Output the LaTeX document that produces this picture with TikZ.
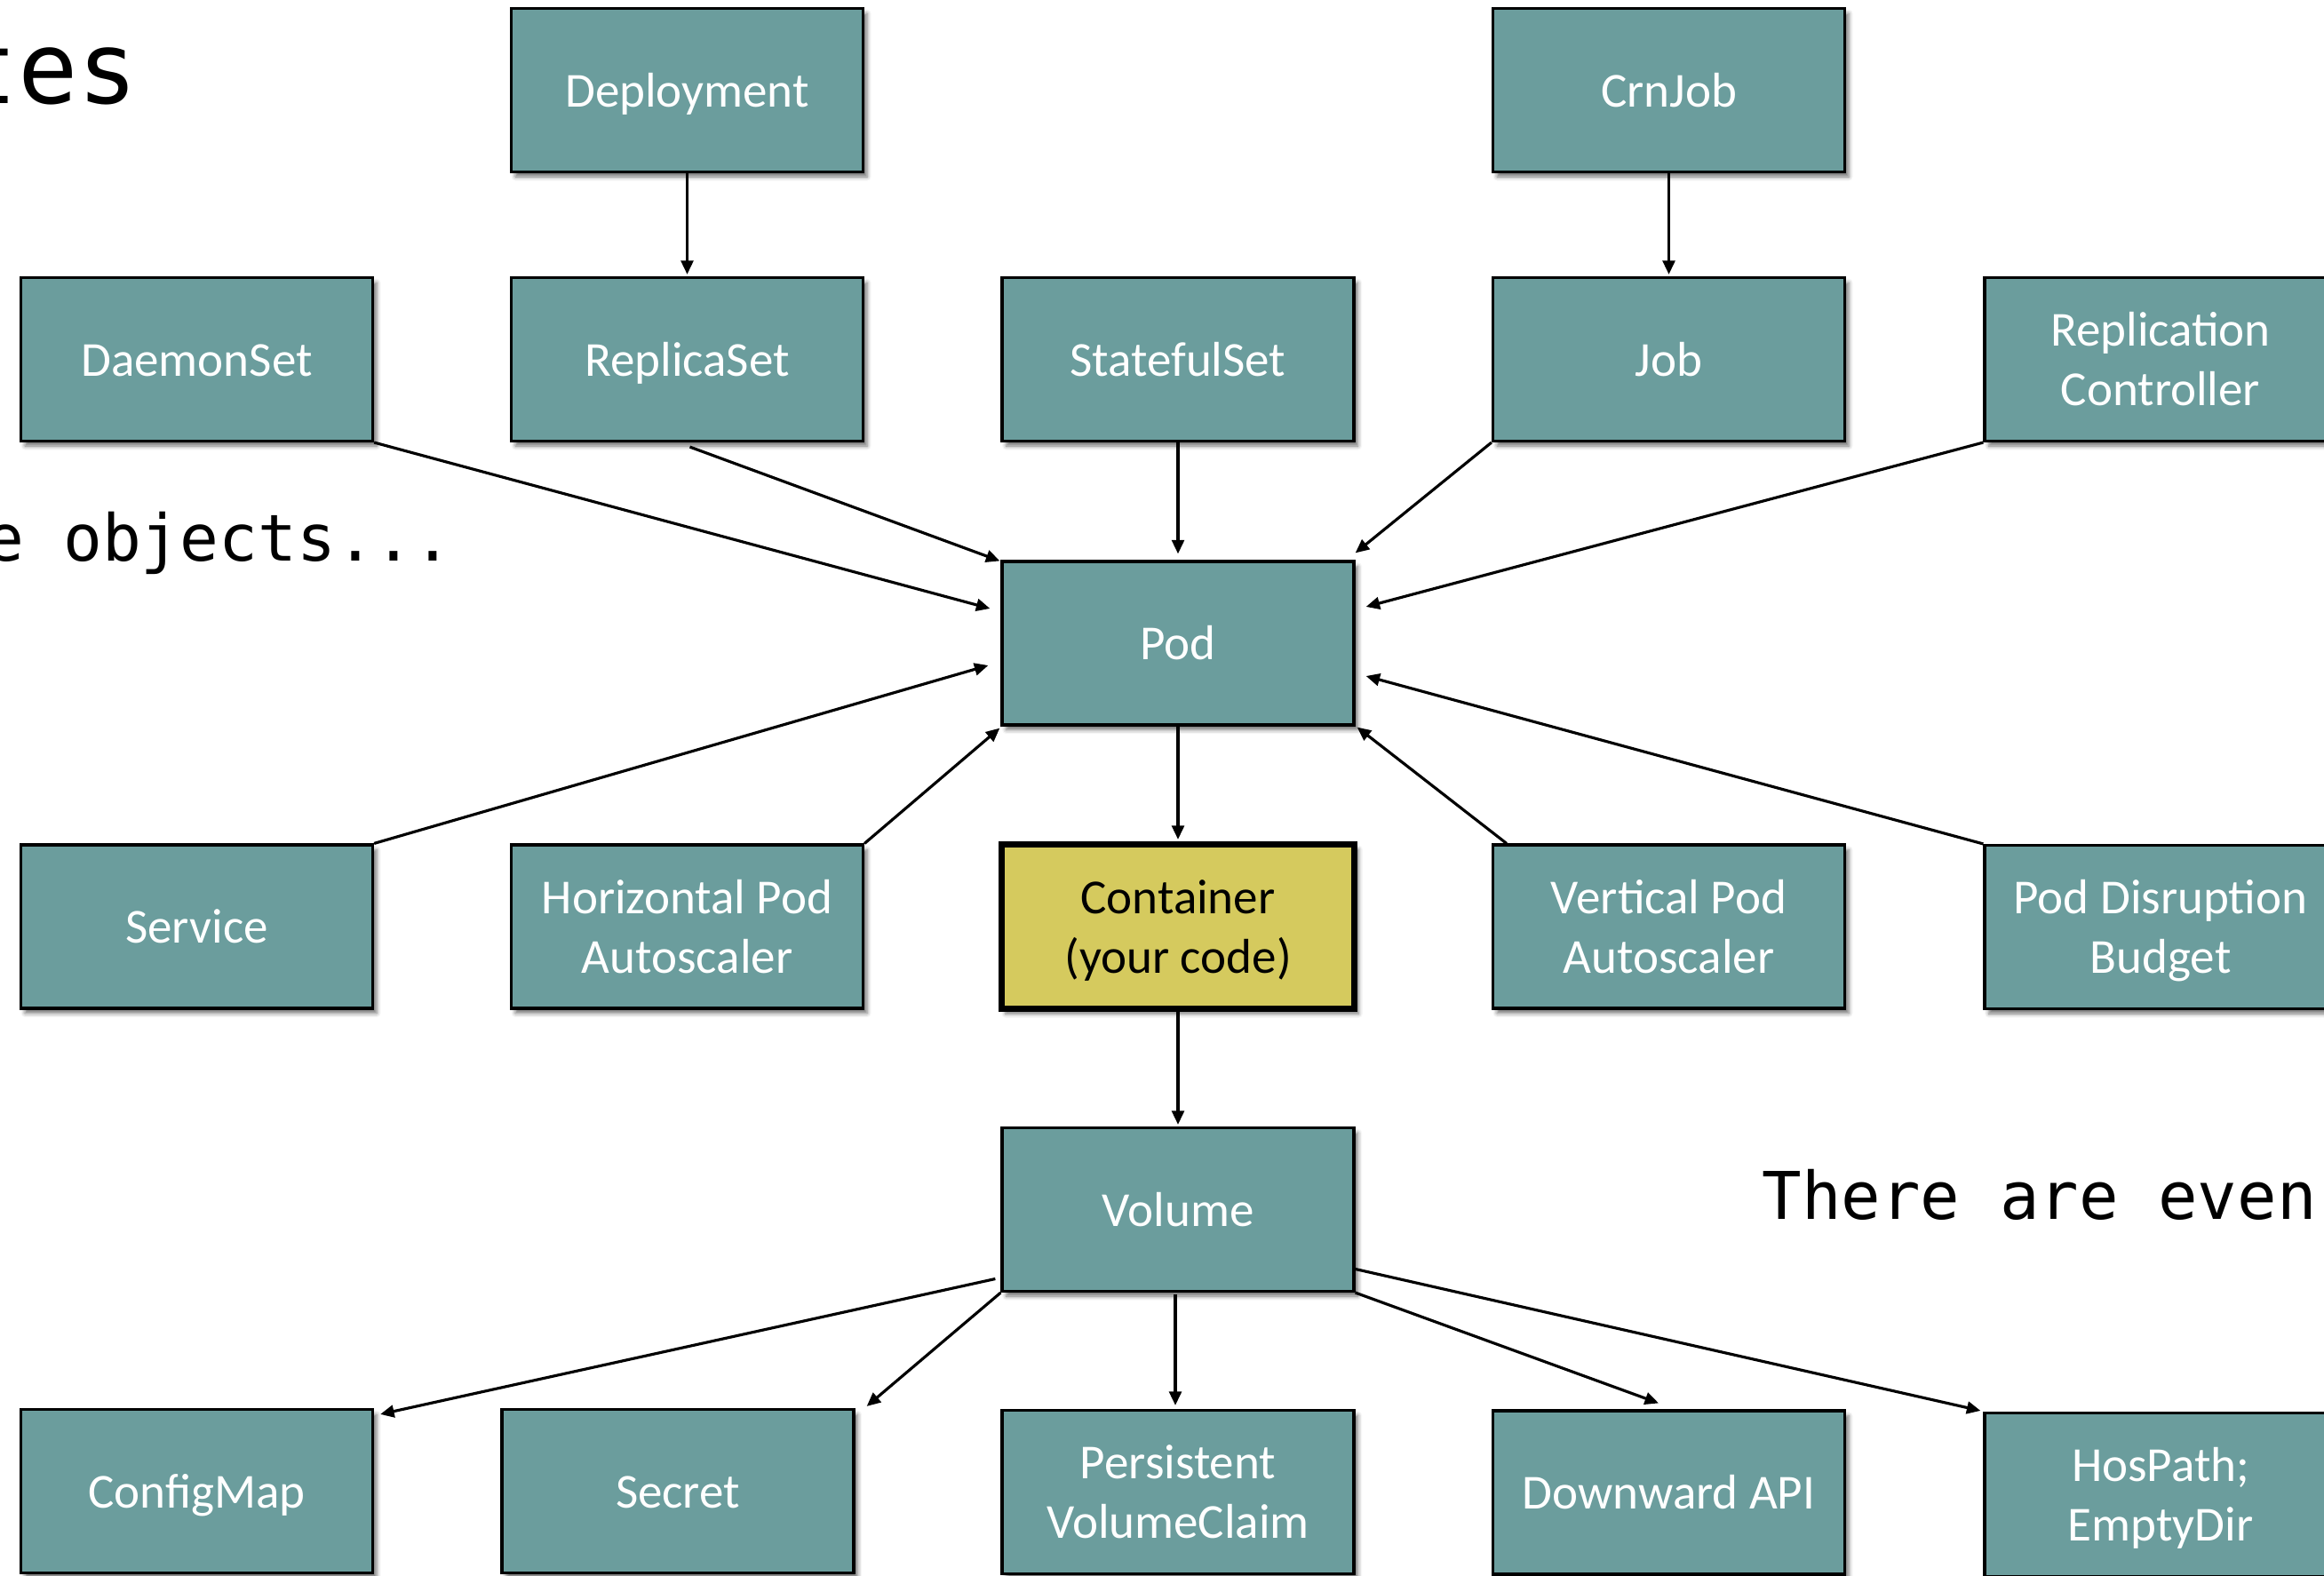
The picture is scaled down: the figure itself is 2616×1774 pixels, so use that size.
\documentclass[tikz,border=0pt]{standalone}
\usepackage{fontspec}
\setmainfont{Carlito}
\newfontfamily\monofont{DejaVu Sans Mono}
\usetikzlibrary{arrows.meta,shadows.blur}
\definecolor{boxteal}{RGB}{107,157,157}
\definecolor{codeyellow}{RGB}{213,202,94}

\begin{document}
\begin{tikzpicture}[x=0.01cm,y=-0.01cm,
  kbase/.style={rectangle, draw=black, line width=0.95pt, fill=boxteal, text=white,
    minimum width=3.957cm, minimum height=1.837cm, inner sep=0pt, align=center,
    font=\fontsize{15.65}{19.1}\selectfont,
    blur shadow={shadow xshift=1.3pt, shadow yshift=-1.6pt, shadow blur radius=1.3pt, shadow opacity=55}},
  % fixed line-box extents: one line, and two lines (height above the last baseline)
  kbox/.style={kbase, text height=14.89pt, text depth=4.21pt},
  kboxtwo/.style={kbase, text height=33.99pt, text depth=4.21pt},
  codebox/.style={kboxtwo, fill=codeyellow, text=black, line width=2pt,
    minimum width=3.97cm, minimum height=1.85cm},
  arr/.style={-{Triangle[length=4.4pt,width=3.9pt]}, line width=0.9pt},
  mono/.style={inner sep=0pt, anchor=base west, text=black}
]
\useasboundingbox (0,0) rectangle (2616,1774);
\clip (0,0) rectangle (2616,1774);

% headline and side notes
\node[mono, font=\monofont\fontsize{31.9}{38}\selectfont] (title) at (-48,117) {tes};
\node[mono, font=\monofont\fontsize{20.7}{25}\selectfont] (notea) at (-17,632) {e objects...};
\node[mono, font=\monofont\fontsize{21.05}{25}\selectfont] (noteb) at (1983,1372) {There are even};

% controllers
\node[kbox] (deploy)   at (773.5,101.5) {Deployment};
\node[kbox] (cron)     at (1878.5,101.5) {CrnJob};
\node[kbox] (daemon)   at (221.5,404.5) {DaemonSet};
\node[kbox] (replica)  at (773.5,404.5) {ReplicaSet};
\node[kbox] (stateful) at (1326,404.5) {StatefulSet};
\node[kbox] (job)      at (1878.5,404.5) {Job};
\node[kboxtwo] (rc)    at (2432,404.5) {Replication\\Controller};

% the pod and its neighbours
\node[kbox] (pod)      at (1326,724) {Pod};
\node[kbox] (service)  at (221.5,1043) {Service};
\node[kboxtwo] (hpa)   at (773.5,1043) {Horizontal Pod\\Autoscaler};
\node[codebox] (container) at (1326,1043) {Container\\(your code)};
\node[kboxtwo] (vpa)   at (1878.5,1043) {Vertical Pod\\Autoscaler};
\node[kboxtwo] (pdb)   at (2432,1043.5) {Pod Disruption\\Budget};

% storage
\node[kbox] (volume)    at (1326,1361.5) {Volume};
\node[kbox] (configmap) at (221.5,1678.5) {ConfigMap};
\node[kbox] (secret)    at (763,1678.5) {Secret};
\node[kboxtwo] (pvc)    at (1326,1679.5) {Persistent\\VolumeClaim};
\node[kbox] (downward)  at (1878.5,1680) {Downward API};
\node[kboxtwo] (hostpath) at (2432,1682.5) {HosPath;\\EmptyDir};

% controller connectors
\draw[arr] (deploy.south) -- ([shift={(0,-2)}]replica.north);
\draw[arr] (cron.south) -- ([shift={(0,-2)}]job.north);
\draw[arr] (daemon.south east) -- ([shift={(-12,-39)}]pod.west);
\draw[arr] ([shift={(3,5)}]replica.south) -- ([shift={(-1,1)}]pod.north west);
\draw[arr] (stateful.south) -- ([shift={(0,-7)}]pod.north);
\draw[arr] (job.south west) -- ([shift={(0,-8)}]pod.north east);
\draw[arr] (rc.south west) -- ([shift={(12,-41)}]pod.east);
\draw[arr] (service.north east) -- ([shift={(-14,25)}]pod.west);
\draw[arr] (hpa.north east) -- ([shift={(-1,2)}]pod.south west);
\draw[arr] (pod.south) -- ([shift={(0,-2)}]container.north);
\draw[arr] ([shift={(17,0)}]vpa.north west) -- ([shift={(2,1)}]pod.south east);
\draw[arr] (pdb.north west) -- ([shift={(12,37)}]pod.east);

% volume connectors
\draw[arr] (container.south) -- ([shift={(0,-2)}]volume.north);
\draw[arr] ([shift={(-6,78)}]volume.west) -- ([shift={(7,7)}]configmap.north east);
\draw[arr] (volume.south west) -- ([shift={(13,-2)}]secret.north east);
\draw[arr] ([shift={(-3,2)}]volume.south) -- ([shift={(-3,-4)}]pvc.north);
\draw[arr] (volume.south east) -- ([shift={(-11.5,-7)}]downward.north);
\draw[arr] ([shift={(0,67)}]volume.east) -- ([shift={(-3,-1)}]hostpath.north west);
\end{tikzpicture}
\end{document}
